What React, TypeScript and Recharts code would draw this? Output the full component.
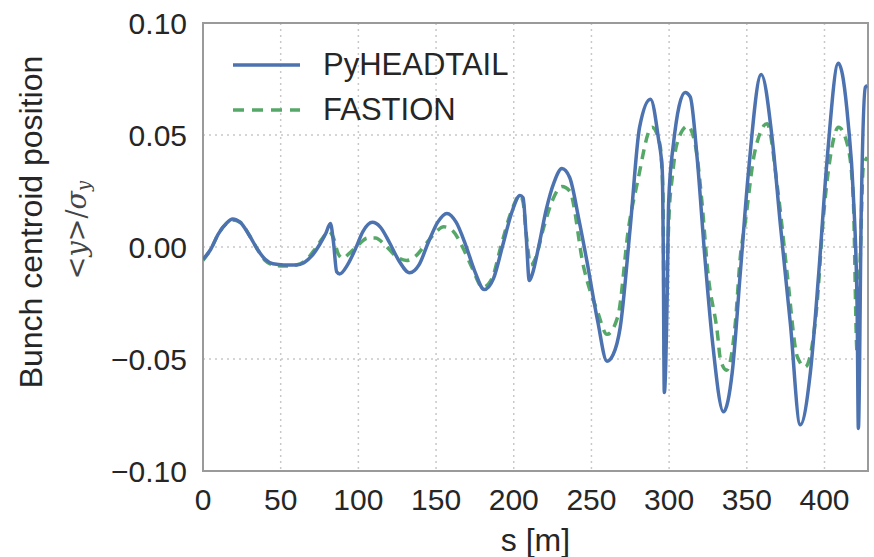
import React from "react";
import {
  CartesianGrid,
  Line,
  LineChart,
  ReferenceArea,
  XAxis,
  YAxis,
} from "recharts";

// s [m] positions and <y>/sigma_y values
const pyheadtailS = [
  0, 5, 10, 15, 19, 24, 30, 35, 40, 45, 52, 60, 65, 70, 75, 79, 82, 84, 86, 88,
  93, 98, 103, 109, 114, 120, 126, 133, 139, 145, 151, 157, 163, 169, 175, 181,
  187, 193, 199, 204, 206, 208, 210, 212, 216, 221, 226, 231, 236, 242, 247,
  254, 260, 264, 268.5, 275, 281, 288, 293, 295.6, 296.2, 296.9, 298.8, 299.7,
  302.6, 310.3, 313.6, 318, 323, 327.8, 335, 340.6, 345.8, 351, 359.3, 366.4,
  371.5, 378, 384.4, 390.9, 396.3, 401.8, 408.9, 415.3, 418.5, 421, 421.8,
  423.7, 426.3, 427.5,
];
const pyheadtailY = [
  -0.0055, -0.001, 0.006, 0.0105, 0.0125, 0.011, 0.005, -0.001, -0.0055,
  -0.0075, -0.008, -0.008, -0.007, -0.004, 0.001, 0.006, 0.0105, 0.002, -0.011,
  -0.012, -0.008, -0.001, 0.007, 0.011, 0.009, 0.002, -0.006, -0.0115, -0.008,
  0.002, 0.011, 0.015, 0.011, 0.001, -0.011, -0.019, -0.014, 0.001, 0.016,
  0.023, 0.022, 0.005, -0.015, -0.012, 0.0, 0.017, 0.029, 0.035, 0.031, 0.012,
  -0.006, -0.033, -0.051, -0.048, -0.036, 0.009, 0.0535, 0.066, 0.049, 0.034,
  0.002, -0.065, -0.02, 0.02, 0.045, 0.069, 0.067, 0.04, -0.0045, -0.0415,
  -0.0736, -0.056, -0.0117, 0.033, 0.077, 0.048, 0.0107, -0.034, -0.0794,
  -0.056, -0.0117, 0.04, 0.082, 0.055, 0.024, -0.027, -0.081, 0.018, 0.0713,
  0.072,
];

const fastionS = [
  0, 5, 10, 15, 19, 24, 30, 35, 40, 45, 52, 60, 66, 72, 77, 81, 84, 87, 90, 94,
  100, 106, 111, 117, 124, 131, 137, 143, 149, 155, 161, 167, 173, 180, 186,
  192, 198, 204, 206, 208, 211, 214, 219, 225, 231, 236, 245, 254, 260, 267,
  274, 279.5, 289, 294, 296, 297, 298.5, 300, 302, 305, 312, 317, 321, 325, 331,
  333, 337, 342.6, 345.8, 349, 355, 363, 370, 376, 382.5, 387.6, 395, 399,
  403.7, 409, 415, 418.5, 421, 423, 425, 427.5,
];
const fastionY = [
  -0.006, -0.001, 0.006, 0.0105, 0.012, 0.011, 0.005, -0.001, -0.006, -0.008,
  -0.0085, -0.008, -0.006, -0.001, 0.004, 0.007, 0.004, -0.003, -0.005, -0.003,
  0.001, 0.004, 0.004, 0.001, -0.004, -0.006, -0.004, 0.001, 0.006, 0.009,
  0.007, 0.0, -0.009, -0.018, -0.014, 0.001, 0.015, 0.023, 0.02, 0.006, -0.008,
  -0.005, 0.008, 0.021, 0.027, 0.025, -0.009, -0.029, -0.039, -0.031, 0.009,
  0.0285, 0.0535, 0.046, 0.025, -0.05, -0.015, 0.015, 0.031, 0.046, 0.054,
  0.045, 0.021, -0.0117, -0.038, -0.05, -0.055, -0.034, -0.0045, 0.011, 0.042,
  0.055, 0.025, -0.012, -0.049, -0.0535, -0.027, 0.011, 0.04, 0.0535, 0.045,
  0.022, -0.047, -0.005, 0.036, 0.04,
];

const xTicks = [0, 50, 100, 150, 200, 250, 300, 350, 400];
const yTicks = [-0.1, -0.05, 0, 0.05, 0.1];

const pyheadtailData = pyheadtailS.map((s, i) => ({ s, y: pyheadtailY[i] }));
const fastionData = fastionS.map((s, i) => ({ s, y: fastionY[i] }));

const BLUE = "#4c72b0";
const GREEN = "#55a868";
const FONT = "'Liberation Sans', Arial, sans-serif";

const fmtY = (v: number) =>
  v < 0 ? "\u2212" + Math.abs(v).toFixed(2) : v.toFixed(2);

const YLabel = () => (
  <g fill="#262626">
    <text
      x={31}
      y={222}
      transform="rotate(-90 31 222)"
      textAnchor="middle"
      dominantBaseline="central"
      fontSize={32}
      fontFamily={FONT}
    >
      Bunch centroid position
    </text>
    <text
      x={76}
      y={230}
      transform="rotate(-90 76 230)"
      textAnchor="middle"
      dominantBaseline="central"
      fontSize={27}
      fontFamily="'DejaVu Serif', serif"
      fill="#444"
    >
      &lt;<tspan fontStyle="italic">y</tspan>&gt;/
      <tspan fontStyle="italic">σ</tspan>
      <tspan fontStyle="italic" fontSize={18} dy={7}>
        y
      </tspan>
    </text>
  </g>
);

const LegendBox = () => (
  <div
    style={{
      position: "absolute",
      left: 233,
      top: 42,
      fontFamily: FONT,
      fontSize: 31,
      color: "#262626",
    }}
  >
    <div style={{ display: "flex", alignItems: "center", height: 45 }}>
      <svg width={90} height={10}>
        <line x1={0} y1={5} x2={67} y2={5} stroke={BLUE} strokeWidth={3.5} />
      </svg>
      <span>PyHEADTAIL</span>
    </div>
    <div style={{ display: "flex", alignItems: "center", height: 45 }}>
      <svg width={90} height={10}>
        <line
          x1={0}
          y1={5}
          x2={67}
          y2={5}
          stroke={GREEN}
          strokeWidth={3.5}
          strokeDasharray="11 8"
        />
      </svg>
      <span>FASTION</span>
    </div>
  </div>
);

export default function App() {
  return (
    <div
      style={{
        position: "absolute",
        left: 0,
        top: 0,
        width: 874,
        height: 557,
        background: "#fff",
      }}
    >
      <LineChart
        width={874}
        height={557}
        margin={{ top: 23, right: 6, left: 0, bottom: 0 }}
      >
        <CartesianGrid
          stroke="#c8c8c8"
          strokeWidth={1.5}
          strokeDasharray="2 4"
        />
        <XAxis
          type="number"
          dataKey="s"
          domain={[0, 428]}
          ticks={xTicks}
          allowDataOverflow
          height={86}
          axisLine={false}
          tickLine={false}
          tickSize={0}
          tickMargin={18}
          tick={{ fontSize: 30, fill: "#262626", fontFamily: FONT }}
          label={{
            value: "s [m]",
            position: "insideBottom",
            offset: 6,
            fontSize: 32,
            fill: "#262626",
            fontFamily: FONT,
          }}
        />
        <YAxis
          type="number"
          dataKey="y"
          domain={[-0.1, 0.1]}
          ticks={yTicks}
          allowDataOverflow
          width={203}
          axisLine={false}
          tickLine={false}
          tickSize={0}
          tickMargin={16}
          tickFormatter={fmtY}
          tick={{ fontSize: 30, fill: "#262626", fontFamily: FONT }}
          label={{ content: () => <YLabel /> }}
        />
        <ReferenceArea
          x1={0}
          x2={428}
          y1={-0.1}
          y2={0.1}
          fill="none"
          stroke="#9a9a9a"
          strokeWidth={2}
          ifOverflow="visible"
        />
        <Line
          data={fastionData}
          dataKey="y"
          type="monotone"
          stroke={GREEN}
          strokeWidth={3.5}
          strokeDasharray="10 7"
          dot={false}
          isAnimationActive={false}
        />
        <Line
          data={pyheadtailData}
          dataKey="y"
          type="monotone"
          stroke={BLUE}
          strokeWidth={3.5}
          dot={false}
          isAnimationActive={false}
        />
      </LineChart>
      <LegendBox />
    </div>
  );
}
